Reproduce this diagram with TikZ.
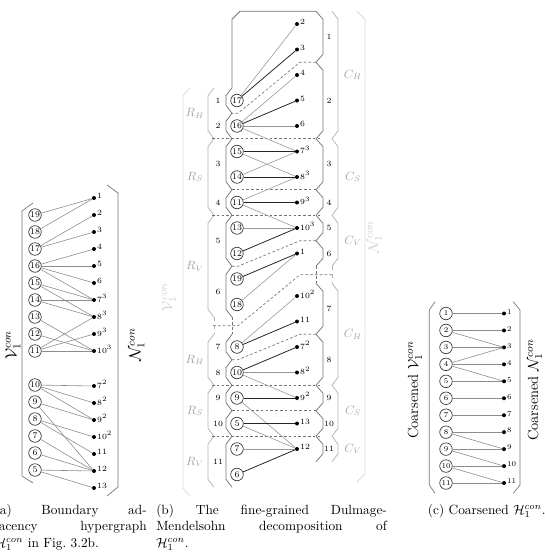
\documentclass[tikz,border=0pt]{standalone}
\usepackage{amsmath}

\begin{document}
\begin{tikzpicture}[x=0.75pt,y=-0.75pt,
	vtx/.style={circle,draw=black!80,line width=0.5pt,inner sep=0pt,minimum size=9.4pt,font=\fontsize{6.5}{7}\selectfont},
	cvtx/.style={vtx,font=\fontsize{5.5}{6}\selectfont},
	net/.style={circle,fill=black,inner sep=0pt,minimum size=3pt,label distance=0.8pt},
	netlbl/.style={font=\fontsize{6.5}{7}\selectfont,inner sep=0.5pt,yshift=1.2pt},
	cnetlbl/.style={netlbl,font=\fontsize{5.5}{6}\selectfont},
	aedge/.style={draw=black!45,line width=0.45pt},
	ledge/.style={draw=black!40,line width=0.45pt},
	dedge/.style={draw=black!85,line width=0.6pt},
	brk/.style={draw=black!55,line width=0.5pt},
	contour/.style={draw=black!55,line width=0.55pt},
	sep/.style={draw=black!55,line width=0.5pt,dash pattern=on 2pt off 1.6pt},
	grp/.style={draw=black!30,line width=0.55pt},
	outer/.style={draw=black!15,line width=0.55pt},
	blklbl/.style={font=\fontsize{6}{7}\selectfont,inner sep=0pt},
	grplbl/.style={text=black!35,font=\small,inner sep=0pt},
	biglbl/.style={font=\large,inner sep=0pt},
	fadelbl/.style={text=black!18,font=\fontsize{11}{13}\selectfont,inner sep=0pt},
	coarselbl/.style={font=\fontsize{11}{13}\selectfont,inner sep=0pt},
	caption/.style={anchor=north west,inner sep=0pt,align=justify,font=\fontsize{10}{12.5}\selectfont}]
	\useasboundingbox (0,0) rectangle (545,557);

	% (a) boundary adjacency hypergraph
	\foreach \n/\y in {19/215,18/232,17/249,16/266,15/283,14/300,13/317,12/334,11/351,10/385,9/402,8/419,7/436,6/453,5/470}
		\node[vtx] (a-v\n) at (35,\y) {\n};
	\foreach \n/\lab/\y in {1/1/198,2/2/215,3/3/232,4/4/249,5/5/266,6/6/283,73/7^3/300,83/8^3/317,93/9^3/334,103/10^3/351,72/7^2/386,82/8^2/403,92/9^2/420,102/10^2/437,11/11/454,12/12/471,13/13/488}
		\node[net,label={[netlbl]right:$\lab$}] (a-n\n) at (94,\y) {};
	\foreach \u/\w in {19/1,18/1,17/2,17/3,16/4,16/5,16/6,16/73,15/73,15/83,14/73,14/83,13/103,12/103,11/83,11/93,11/103,10/72,10/82,10/92,9/92,9/12,8/102,8/11,7/12,6/12,5/12,5/13}
		\draw[aedge] (a-v\u) -- (a-n\w);
	\draw[brk] (33,203) -- (22,211) -- (22,476) -- (33,483);
	\draw[brk] (107,185) -- (118,193) -- (118,487) -- (107,496);
	\node[biglbl,rotate=90] (a-vset) at (13,345) {$\mathcal{V}_1^{con}$};
	\node[biglbl,rotate=90] (a-nset) at (137,345) {$\mathcal{N}_1^{con}$};
	\node[caption,text width=114pt] (a-cap) at (-5.5,504) {(a) Boundary ad-\linebreak jacency hypergraph\linebreak $\mathcal{H}_1^{con}$ in Fig.~3.2b.};

	% (b) fine-grained DM decomposition
	\draw[outer] (190,87.75) -- (183,95.75) -- (183,488) -- (190,496);
	\draw[outer] (357,11.25) -- (365,19.25) -- (365,474) -- (357,482);
	\draw[grp] (214,87.75) -- (208,95.75) -- (208,130.75) -- (214,138.75) -- (208,146.75) -- (208,207.25) -- (214,215.25) -- (208,223.25) -- (208,309.25) -- (214,317.25);
	\draw[grp] (214,334.25) -- (208,342.25) -- (208,377.25) -- (214,385.25) -- (208,393.25) -- (208,428.25) -- (214,436.25) -- (208,444.25) -- (208,479.25) -- (214,487.25);
	\draw[grp,dashed] (214,317.25) -- (214,334.25);
	\draw[grp] (332,11.25) -- (338,19.25) -- (338,130.75) -- (332,138.75) -- (338,146.75) -- (338,207.25) -- (332,215.25) -- (338,223.25) -- (338,258.25) -- (332,266.25);
	\draw[grp] (332,283.25) -- (338,291.25) -- (338,377.25) -- (332,385.25) -- (338,393.25) -- (338,428.25) -- (332,436.25) -- (338,444.25) -- (338,453.75) -- (332,461.75);
	\draw[grp,dashed] (332,266.25) -- (332,283.25);
	\draw[contour] (232,317.25) -- (226,309.25) -- (226,274.25) -- (232,266.25) -- (226,258.25) -- (226,223.25) -- (232,215.25) -- (226,207.25) -- (226,197.75) -- (232,189.75) -- (226,181.75) -- (226,146.75) -- (232,138.75) -- (226,130.75) -- (226,121.25) -- (232,113.25) -- (226,105.25) -- (226,95.75) -- (232,87.75) -- (232,19.25) -- (240,11.25) -- (316,11.25) -- (323,19.25) -- (323,54.25) -- (316,62.25) -- (323,70.25) -- (323,130.75) -- (316,138.75) -- (323,146.75) -- (323,181.75) -- (316,189.75) -- (323,197.75) -- (323,207.25) -- (316,215.25) -- (323,223.25) -- (323,232.75) -- (316,240.75) -- (323,248.75) -- (323,258.25) -- (316,266.25);
	\draw[contour] (232,334.25) -- (226,342.25) -- (226,351.75) -- (232,359.75) -- (226,367.75) -- (226,377.25) -- (232,385.25) -- (226,393.25) -- (226,402.75) -- (232,410.75) -- (226,418.75) -- (226,428.25) -- (232,436.25) -- (226,444.25) -- (226,479.25) -- (232,487.25);
	\draw[contour] (316,283.25) -- (323,291.25) -- (323,326.25) -- (316,334.25) -- (323,342.25) -- (323,377.25) -- (316,385.25) -- (323,393.25) -- (323,402.75) -- (316,410.75) -- (323,418.75) -- (323,428.25) -- (316,436.25) -- (323,444.25) -- (323,453.75) -- (316,461.75);
	\draw[sep] (316,62.25) -- (300,62.25) -- (238,113.25) -- (232,113.25);
	\draw[sep] (212,138.75) -- (322,138.75);
	\draw[sep] (232,189.75) -- (316,189.75);
	\draw[sep] (212,215.25) -- (322,215.25);
	\draw[sep] (316,240.75) -- (300,240.75) -- (238,266.25) -- (232,266.25);
	\draw[sep] (332,274.75) -- (300,274.75) -- (238,325.75) -- (213,325.75);
	\draw[sep] (232,317.25) -- (232,334.25);
	\draw[sep] (316,266.25) -- (316,283.25);
	\draw[sep] (316,334.25) -- (300,334.25) -- (238,359.75) -- (232,359.75);
	\draw[sep] (212,385.25) -- (322,385.25);
	\draw[sep] (232,410.75) -- (316,410.75);
	\draw[sep] (212,436.25) -- (322,436.25);
	\foreach \k/\y in {1/100.5,2/126,3/164.25,4/202.5,5/240.75,6/291.75,7/347,8/372.5,9/398,10/423.5,11/461.75}
		\node[blklbl] (b-r\k) at (218,\y) {\k};
	\foreach \k/\y in {1/36.75,2/100.5,3/164.25,4/202.5,5/228,6/253.5,7/308.75,8/359.75,9/398,10/423.5,11/449}
		\node[blklbl] (b-c\k) at (329,\y) {\k};
	\foreach \g/\s/\y in {rh1/H/113.25,rs1/S/177,rv1/V/266.25,rh2/H/359.75,rs2/S/410.75,rv2/V/461.75}
		\node[grplbl] (b-\g) at (195,\y) {$R_\s$};
	\foreach \g/\s/\y in {ch1/H/75,cs1/S/177,cv1/V/240.75,ch2/H/334.25,cs2/S/410.75,cv2/V/449}
		\node[grplbl] (b-\g) at (353,\y) {$C_\s$};
	\node[fadelbl,rotate=90] (b-vset) at (169,297) {$\mathcal{V}_1^{con}$};
	\node[fadelbl,rotate=90] (b-nset) at (375,237) {$\mathcal{N}_1^{con}$};
	\foreach \n/\y in {17/100.5,16/126,15/151.5,14/177,11/202.5,13/228,12/253.5,19/279,18/304.5,8/347,10/372.5,9/398,5/423.5,7/449,6/474.5}
		\node[vtx] (b-v\n) at (237,\y) {\n};
	\foreach \n/\lab/\y in {2/2/24,3/3/49.5,4/4/75,5/5/100.5,6/6/126,73/7^3/151.5,83/8^3/177,93/9^3/202.5,103/10^3/228,1/1/253.5,102/10^2/296,11/11/321.5,72/7^2/347,82/8^2/372.5,92/9^2/398,13/13/423.5,12/12/449}
		\node[net,label={[netlbl]right:$\lab$}] (b-n\n) at (297,\y) {};
	\foreach \u/\w in {18/1,17/2,16/4,16/6,16/73,15/83,14/73,11/83,11/103,13/103,8/102,10/82,10/92,9/12,5/12,7/12}
		\draw[ledge] (b-v\u) -- (b-n\w);
	\foreach \u/\w in {19/1,17/3,16/5,15/73,14/83,11/93,12/103,8/11,10/72,9/92,5/13,6/12}
		\draw[dedge] (b-v\u) -- (b-n\w);
	\node[caption,text width=173pt] (b-cap) at (156,504) {(b) The fine-grained Dulmage-\linebreak Mendelsohn decomposition of\linebreak $\mathcal{H}_1^{con}$.};

	% (c) coarsened hypergraph
	\foreach \k in {1,...,11} {
		\node[cvtx] (c-v\k) at (446,{313.5+16.95*(\k-1)}) {\k};
		\node[net,label={[cnetlbl]right:\k}] (c-n\k) at (504,{313.5+16.95*(\k-1)}) {};
	}
	\foreach \u/\w in {1/1,2/2,2/3,3/3,4/3,4/4,4/5,5/5,6/6,7/7,8/8,8/9,9/9,9/10,10/10,10/11,11/11}
		\draw[aedge] (c-v\u) -- (c-n\w);
	\draw[brk] (435,301.7) -- (429.3,310) -- (429.3,485) -- (435,493.3);
	\draw[brk] (513.3,301.7) -- (520,310) -- (520,485) -- (513.3,493.3);
	\node[coarselbl,rotate=90] (c-vset) at (415,390) {Coarsened $\mathcal{V}_1^{con}$};
	\node[coarselbl,rotate=90] (c-nset) at (535,390) {Coarsened $\mathcal{N}_1^{con}$};
	\node[caption] (c-cap) at (427.7,504) {(c) Coarsened $\mathcal{H}_1^{con}$.};
\end{tikzpicture}
\end{document}
